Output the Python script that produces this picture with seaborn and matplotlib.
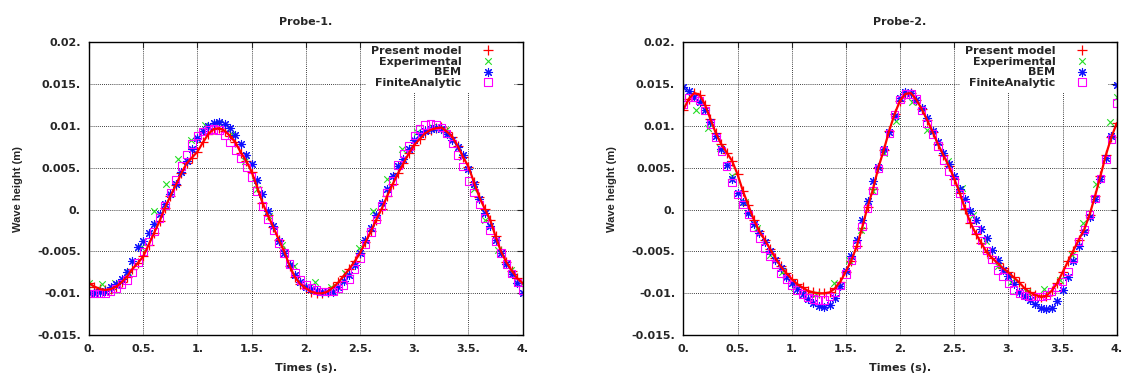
import numpy as np
import matplotlib
matplotlib.use("Agg")
import matplotlib.pyplot as plt
import seaborn as sns

# time grid of the simulated series (every 0.05 s)
times = np.linspace(0, 4, 81)

# ---- Probe-1 ----
p1_model = [-0.0088, -0.0092, -0.0095, -0.0096, -0.0095, -0.0092, -0.0087, -0.0080, -0.0071, -0.0064,
            -0.0056, -0.0042, -0.0028, -0.0014, 0.0002, 0.0016, 0.0029, 0.0043, 0.0055, 0.0062,
            0.0069, 0.0080, 0.0090, 0.0096, 0.0097, 0.0094, 0.0088, 0.0080, 0.0068, 0.0058,
            0.0045, 0.0027, 0.0008, -0.0007, -0.0021, -0.0036, -0.0050, -0.0067, -0.0081, -0.0089,
            -0.0094, -0.0098, -0.0100, -0.0100, -0.0098, -0.0093, -0.0087, -0.0079, -0.0071, -0.0062,
            -0.0052, -0.0039, -0.0026, -0.0012, 0.0001, 0.0016, 0.0030, 0.0043, 0.0055, 0.0067,
            0.0077, 0.0084, 0.0091, 0.0095, 0.0097, 0.0098, 0.0093, 0.0087, 0.0076, 0.0063,
            0.0051, 0.0033, 0.0015, 0.0001, -0.0012, -0.0032, -0.0050, -0.0063, -0.0073, -0.0082,
            -0.0088]
p1_bem = [-0.0100, -0.0100, -0.0099, -0.0097, -0.0093, -0.0089, -0.0083, -0.0075, -0.0062, -0.0045,
          -0.0037, -0.0028, -0.0017, -0.0005, 0.0006, 0.0018, 0.0031, 0.0045, 0.0058, 0.0072,
          0.0085, 0.0094, 0.0100, 0.0103, 0.0104, 0.0102, 0.0097, 0.0089, 0.0078, 0.0065,
          0.0054, 0.0035, 0.0018, -0.0002, -0.0020, -0.0037, -0.0052, -0.0066, -0.0078, -0.0087,
          -0.0092, -0.0095, -0.0097, -0.0098, -0.0099, -0.0098, -0.0093, -0.0085, -0.0078, -0.0066,
          -0.0052, -0.0036, -0.0022, -0.0006, 0.0008, 0.0025, 0.0040, 0.0052, 0.0060, 0.0072,
          0.0083, 0.0090, 0.0094, 0.0096, 0.0097, 0.0096, 0.0090, 0.0083, 0.0075, 0.0065,
          0.0048, 0.0030, 0.0013, -0.0004, -0.0020, -0.0036, -0.0052, -0.0065, -0.0077, -0.0088,
          -0.0100]
p1_fa = [-0.0100, -0.0100, -0.0100, -0.0100, -0.0098, -0.0094, -0.0089, -0.0084, -0.0075, -0.0063,
         -0.0050, -0.0038, -0.0026, -0.0010, 0.0005, 0.0020, 0.0036, 0.0052, 0.0066, 0.0078,
         0.0088, 0.0093, 0.0095, 0.0096, 0.0095, 0.0088, 0.0080, 0.0071, 0.0061, 0.0050,
         0.0039, 0.0022, 0.0004, -0.0012, -0.0025, -0.0040, -0.0052, -0.0065, -0.0075, -0.0084,
         -0.0090, -0.0093, -0.0096, -0.0098, -0.0098, -0.0098, -0.0094, -0.0090, -0.0083, -0.0071,
         -0.0058, -0.0042, -0.0027, -0.0012, 0.0004, 0.0020, 0.0034, 0.0053, 0.0067, 0.0076,
         0.0088, 0.0096, 0.0101, 0.0102, 0.0101, 0.0098, 0.0091, 0.0079, 0.0065, 0.0051,
         0.0034, 0.0020, 0.0006, -0.0010, -0.0025, -0.0038, -0.0052, -0.0065, -0.0076, -0.0087,
         -0.0096]
p1_exp_t = [0.0, 0.12, 0.24, 0.36, 0.48, 0.60, 0.71, 0.82, 0.94, 1.07, 1.20, 1.32, 1.44, 1.55,
            1.66, 1.78, 1.89, 2.08, 2.23, 2.36, 2.49, 2.62, 2.75, 2.89, 3.03, 3.16, 3.29, 3.44,
            3.55, 3.65, 3.77, 3.89, 4.0]
p1_exp = [-0.0088, -0.0089, -0.0088, -0.0074, -0.0045, -0.0002, 0.0031, 0.0060, 0.0083, 0.0101,
          0.0103, 0.0090, 0.0058, 0.0025, -0.0008, -0.0042, -0.0068, -0.0086, -0.0092, -0.0076,
          -0.0046, -0.0002, 0.0036, 0.0072, 0.0092, 0.0098, 0.0095, 0.0063, 0.0025, -0.0013,
          -0.0048, -0.0072, -0.0088]

# ---- Probe-2 ----
p2_model = [0.0119, 0.0132, 0.0139, 0.0137, 0.0125, 0.0108, 0.0091, 0.0078, 0.0068, 0.0058,
            0.0042, 0.0022, 0.0005, -0.0012, -0.0026, -0.0036, -0.0047, -0.0058, -0.0068, -0.0076,
            -0.0083, -0.0089, -0.0093, -0.0097, -0.0099, -0.0100, -0.0100, -0.0099, -0.0094, -0.0086,
            -0.0074, -0.0061, -0.0044, -0.0022, 0.0003, 0.0024, 0.0050, 0.0071, 0.0094, 0.0114,
            0.0130, 0.0138, 0.0139, 0.0131, 0.0120, 0.0107, 0.0093, 0.0078, 0.0065, 0.0052,
            0.0037, 0.0020, 0.0001, -0.0016, -0.0029, -0.0040, -0.0051, -0.0058, -0.0064, -0.0070,
            -0.0075, -0.0081, -0.0087, -0.0094, -0.0099, -0.0102, -0.0104, -0.0103, -0.0097, -0.0088,
            -0.0075, -0.0062, -0.0049, -0.0036, -0.0024, -0.0006, 0.0016, 0.0040, 0.0065, 0.0086,
            0.0103]
p2_bem = [0.0146, 0.0141, 0.0134, 0.0128, 0.0119, 0.0104, 0.0088, 0.0072, 0.0053, 0.0036,
          0.0020, 0.0009, -0.0004, -0.0017, -0.0028, -0.0039, -0.0049, -0.0060, -0.0070, -0.0080,
          -0.0088, -0.0095, -0.0101, -0.0107, -0.0112, -0.0115, -0.0116, -0.0114, -0.0106, -0.0091,
          -0.0073, -0.0056, -0.0036, -0.0013, 0.0010, 0.0034, 0.0051, 0.0072, 0.0093, 0.0112,
          0.0133, 0.0140, 0.0139, 0.0131, 0.0121, 0.0109, 0.0094, 0.0080, 0.0067, 0.0054,
          0.0040, 0.0025, 0.0013, -0.0002, -0.0012, -0.0023, -0.0034, -0.0048, -0.0060, -0.0072,
          -0.0079, -0.0089, -0.0098, -0.0103, -0.0108, -0.0113, -0.0118, -0.0119, -0.0118, -0.0109,
          -0.0096, -0.0080, -0.0062, -0.0044, -0.0027, -0.0009, 0.0012, 0.0036, 0.0062, 0.0088,
          0.0149]
p2_fa = [0.0125, 0.0134, 0.0134, 0.0130, 0.0118, 0.0102, 0.0086, 0.0070, 0.0052, 0.0032,
         0.0018, 0.0006, -0.0006, -0.0021, -0.0034, -0.0046, -0.0056, -0.0066, -0.0076, -0.0083,
         -0.0090, -0.0096, -0.0101, -0.0105, -0.0107, -0.0108, -0.0108, -0.0104, -0.0099, -0.0091,
         -0.0077, -0.0061, -0.0042, -0.0020, 0.0001, 0.0023, 0.0049, 0.0070, 0.0091, 0.0113,
         0.0131, 0.0138, 0.0138, 0.0132, 0.0118, 0.0103, 0.0090, 0.0076, 0.0059, 0.0045,
         0.0034, 0.0019, 0.0006, -0.0011, -0.0024, -0.0037, -0.0049, -0.0060, -0.0072, -0.0080,
         -0.0088, -0.0096, -0.0100, -0.0103, -0.0104, -0.0104, -0.0104, -0.0102, -0.0098, -0.0093,
         -0.0086, -0.0074, -0.0058, -0.0038, -0.0024, -0.0006, 0.0013, 0.0037, 0.0060, 0.0084,
         0.0127]
p2_exp_t = [0.12, 0.23, 0.34, 0.45, 0.57, 0.68, 0.80, 0.91, 1.02, 1.22, 1.39, 1.53, 1.64, 1.75,
            1.85, 1.96, 2.11, 2.25, 2.44, 2.57, 2.67, 2.79, 2.90, 3.02, 3.17, 3.33, 3.48, 3.59,
            3.69, 3.81, 3.94, 4.0]
p2_exp = [0.0119, 0.0097, 0.0074, 0.0040, 0.0009, -0.0022, -0.0054, -0.0074, -0.0093, -0.0101,
          -0.0088, -0.0060, -0.0024, 0.0022, 0.0068, 0.0106, 0.0128, 0.0095, 0.0058, 0.0026,
          -0.0007, -0.0038, -0.0068, -0.0086, -0.0098, -0.0095, -0.0084, -0.0054, -0.0016, 0.0030,
          0.0105, 0.0134]

labels = ["Present model", "Experimental", "BEM", "FiniteAnalytic"]
x_ticks = [0, 0.5, 1, 1.5, 2, 2.5, 3, 3.5, 4]
x_ticklabels = ["0.", "0.5.", "1.", "1.5.", "2.", "2.5.", "3.", "3.5.", "4."]
y_ticks = [-0.015, -0.01, -0.005, 0, 0.005, 0.01, 0.015, 0.02]
y_ticklabels = ["-0.015.", "-0.01.", "-0.005.", "0.", "0.005.", "0.01.", "0.015.", "0.02."]

sns.set_style("white")
plt.rcParams["font.family"] = ["DejaVu Sans"]
plt.rcParams["font.weight"] = "bold"
plt.rcParams["font.size"] = 8

fig = plt.figure(figsize=(11.23, 3.76), dpi=100)
ax1 = fig.add_axes([0.0793, 0.1085, 0.3861, 0.780])
ax2 = fig.add_axes([0.6085, 0.1085, 0.3859, 0.780])


def draw_probe(ax, model, exp_t, exp, bem, fa, title):
    # the model output is very dense in the original: a thin red trace under the '+' marks
    sns.lineplot(x=times, y=model, ax=ax, color="#ff0000", linewidth=1.6, legend=False)
    sns.scatterplot(x=times, y=model, ax=ax, marker="+", color="#ff0000", s=42,
                    linewidth=0.9, label=labels[0])
    sns.scatterplot(x=exp_t, y=exp, ax=ax, marker="x", color="#22dd22", s=22,
                    linewidth=0.8, label=labels[1])
    sns.scatterplot(x=times, y=bem, ax=ax, marker=(8, 2, 0), color="#1010ff", s=34,
                    linewidth=0.8, label=labels[2])
    sns.scatterplot(x=times, y=fa, ax=ax, marker="s", facecolor="none", edgecolor="#ff00ff",
                    s=28, linewidth=0.8, label=labels[3])

    ax.set_xlim(0, 4)
    ax.set_ylim(-0.015, 0.02)
    ax.set_xticks(x_ticks)
    ax.set_xticklabels(x_ticklabels)
    ax.set_yticks(y_ticks)
    ax.set_yticklabels(y_ticklabels)
    ax.set_axisbelow(True)
    ax.grid(True, color="black", linestyle=(0, (1, 1.5)), linewidth=0.6)
    ax.tick_params(direction="in", top=True, right=True, length=4, width=0.8,
                   labelsize=8, pad=6)
    for sp in ax.spines.values():
        sp.set_color("black")
        sp.set_linewidth(1.0)
    ax.set_title(title, fontsize=8, fontweight="bold", pad=12)
    ax.set_xlabel("Times (s).", fontsize=8, fontweight="bold", labelpad=7)
    ax.set_ylabel("Wave height (m)", family="Liberation Sans", fontsize=8,
                  fontweight="bold", labelpad=10)

    leg = ax.legend(loc="upper right", bbox_to_anchor=(0.98, 1.0), borderaxespad=0,
                    markerfirst=False, frameon=True, fancybox=False, framealpha=1,
                    facecolor="white", edgecolor="none", borderpad=0.4,
                    labelspacing=0.05, handlelength=3.9, handletextpad=0.44,
                    scatteryoffsets=[0.5], prop={"weight": "bold", "size": 8})
    leg.set_zorder(2.4)


draw_probe(ax1, p1_model, p1_exp_t, p1_exp, p1_bem, p1_fa, "Probe-1.")
draw_probe(ax2, p2_model, p2_exp_t, p2_exp, p2_bem, p2_fa, "Probe-2.")

fig.savefig("out.png", dpi=100)
